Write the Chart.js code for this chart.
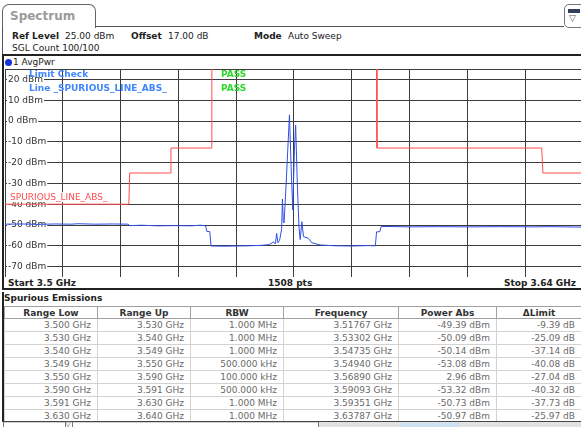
<!DOCTYPE html>
<html>
<head>
<meta charset="utf-8">
<script src="https://cdn.jsdelivr.net/npm/chart.js@4.4.1/dist/chart.umd.min.js"></script>
<style>
  html, body { margin: 0; padding: 0; background: #fff; }
  body { width: 581px; height: 427px; overflow: hidden; position: relative; font-family: "DejaVu Sans", sans-serif; font-size: 9px; color: #222; }
  .t { position: absolute; white-space: nowrap; line-height: 10px; }
  .b { font-weight: bold; }
  .ln { position: absolute; background: #222; }
  #tab { position: absolute; left: 2px; top: 4px; width: 92px; height: 23px; border: 1px solid #666; border-bottom: none; border-radius: 7px 7px 0 0; background: #fff; }
  #tab span { position: absolute; left: 7px; top: 4px; font-size: 12px; color: #9a9a9a; font-weight: bold; }
  #icon { position: absolute; left: 564px; top: 4px; width: 20px; height: 22px; border: 1px solid #777; border-radius: 5px; background: #fff; }
  #icon .bar { position: absolute; left: 3px; top: 4px; width: 12px; height: 4px; background: #33405a; }
  #icon .tri { position: absolute; left: 4px; top: 8px; font-size: 9px; color: #555; }
  #spectrum { position: absolute; left: 5px; top: 69px; }
  #spur { position: absolute; left: 4px; top: 306px; border-collapse: collapse; table-layout: fixed; width: 577px; font-family: "DejaVu Sans", sans-serif; font-size: 9px; }
  #spur th { font-weight: bold; color: #333; border: 1px solid #a0a0a0; padding: 0; text-align: center; line-height: 10px; }
  #spur td { color: #6a6a6a; border: 1px solid #d2d2d2; padding: 0 6px 0 0; text-align: right; line-height: 11px; }
  #spur tr.h { height: 12px; }
  #spur tr { height: 13px; }
</style>
</head>
<body>
<div id="tab"><span>Spectrum</span></div>
<div class="ln" style="left:95px;top:26px;width:469px;height:1px;background:#555"></div>
<div id="icon"><div class="bar"></div><div class="tri">▽</div></div>

<div class="t b" style="left:12px;top:31px">Ref Level</div>
<div class="t" style="left:65px;top:31px">25.00 dBm</div>
<div class="t b" style="left:131px;top:31px">Offset</div>
<div class="t" style="left:168px;top:31px">17.00 dB</div>
<div class="t b" style="left:254px;top:31px">Mode</div>
<div class="t" style="left:288px;top:31px">Auto Sweep</div>
<div class="t" style="left:12px;top:43px">SGL Count 100/100</div>

<div class="ln" style="left:2px;top:27px;width:1px;height:28px;background:#555"></div>
<div class="ln" style="left:2px;top:54px;width:579px;height:2px"></div>
<div class="ln" style="left:2px;top:54px;width:2px;height:236px"></div>
<div class="ln" style="left:2px;top:288px;width:579px;height:2px"></div>
<div style="position:absolute;left:5px;top:59px;width:7px;height:7px;border-radius:50%;background:#1530d8"></div>
<div class="t" style="left:13px;top:57px">1 AvgPwr</div>

<canvas id="spectrum" width="578" height="208"></canvas>

<div class="t b" style="left:8px;top:278px">Start 3.5 GHz</div>
<div class="t b" style="left:268px;top:278px">1508 pts</div>
<div class="t b" style="right:5px;top:278px">Stop 3.64 GHz</div>

<div class="t b" style="left:4px;top:293px">Spurious Emissions</div>
<div class="ln" style="left:2px;top:292px;width:2px;height:130px"></div>
<table id="spur">
  <colgroup><col style="width:93px"><col style="width:93px"><col style="width:93px"><col style="width:115px"><col style="width:98px"><col style="width:85px"></colgroup>
  <thead><tr class="h" id="head"></tr></thead>
  <tbody id="rows"></tbody>
</table>
<div class="ln" style="left:2px;top:421px;width:579px;height:1px;background:#444"></div>
<div style="position:absolute;left:3px;top:422px;width:61px;height:8px;border:1px solid #777;border-top:none;border-radius:0 0 4px 4px"></div>
<div class="t" style="left:65px;top:419px;font-size:8px;color:#666">▽</div>
<div style="position:absolute;left:72px;top:422px;width:245px;height:8px;border:1px solid #777;border-top:none;border-radius:0 0 4px 4px"></div>
<div style="position:absolute;left:319px;top:422px;width:262px;height:6px;background:#e2e2e2"></div>
<div style="position:absolute;left:400px;top:423px;width:60px;height:4px;background:#cfe0f2"></div>

<script>
// trace 1 (AvgPwr): frequency in GHz, level in dBm
const traceFreq = [
  3.5000, 3.5040, 3.5080, 3.5120, 3.5160, 3.5177, 3.5220, 3.5260, 3.5298,
  3.5302, 3.5330, 3.5370, 3.5410, 3.5450, 3.5473, 3.5486,
  3.5489, 3.5496,
  3.5499, 3.5530, 3.5560, 3.5590, 3.5620, 3.5640, 3.5650, 3.5655,
  3.5658, 3.5661, 3.5665, 3.5670, 3.5672, 3.5674, 3.5676, 3.5681,
  3.5689, 3.5693, 3.5697, 3.5701, 3.5704, 3.5708, 3.5712, 3.5715,
  3.5719, 3.5723, 3.5735, 3.5743, 3.5763, 3.5800, 3.5840, 3.5880, 3.5897,
  3.5900, 3.5908,
  3.5911, 3.5935, 3.5980, 3.6050, 3.6120, 3.6200, 3.6280, 3.6320, 3.6379, 3.6400
];
const traceLevel = [
  -49.6, -49.5, -49.7, -49.5, -49.6, -49.4, -49.6, -49.5, -49.6,
  -50.3, -50.1, -50.4, -50.3, -50.4, -50.1, -50.4,
  -53.1, -53.2,
  -60.1, -60.2, -60.1, -60.0, -59.8, -59.4, -58.2, -59.0,
  -54.0, -58.5, -57.5, -52.0, -37.5, -48.0, -49.0, -30.0,
  2.96, -22.0, -42.8, -14.0, -1.9, -30.0, -50.8, -57.0,
  -48.4, -55.6, -56.4, -58.5, -59.6, -60.0, -60.1, -59.9, -60.0,
  -53.3, -53.2,
  -50.7, -50.73, -50.9, -50.8, -50.9, -50.8, -50.9, -50.8, -50.97, -51.0
];

// limit line _SPURIOUS_LINE_ABS_
const limitFreq  = [3.5, 3.53, 3.5302, 3.54, 3.5402, 3.55, 3.5501, 3.59, 3.5901, 3.63, 3.6303, 3.64];
const limitLevel = [-40, -40, -25, -25, -13, -13, 30, 30, -13, -13, -25, -25];

// grid
const levelTicks = [20, 10, 0, -10, -20, -30, -40, -50, -60, -70];
const levelGrid = [25, 20, 10, 0, -10, -20, -30, -40, -50, -60, -70, -75];
const freqGrid = [3.5, 3.514, 3.528, 3.542, 3.556, 3.57, 3.584, 3.598, 3.612, 3.626, 3.64];

// spurious emissions table
const headers = ['Range Low', 'Range Up', 'RBW', 'Frequency', 'Power Abs', '\u0394Limit'];
const rangeLow = ['3.500 GHz', '3.530 GHz', '3.540 GHz', '3.549 GHz', '3.550 GHz', '3.590 GHz', '3.591 GHz', '3.630 GHz'];
const rangeUp  = ['3.530 GHz', '3.540 GHz', '3.549 GHz', '3.550 GHz', '3.590 GHz', '3.591 GHz', '3.630 GHz', '3.640 GHz'];
const rbw      = ['1.000 MHz', '1.000 MHz', '1.000 MHz', '500.000 kHz', '100.000 kHz', '500.000 kHz', '1.000 MHz', '1.000 MHz'];
const peakFreq = ['3.51767 GHz', '3.53302 GHz', '3.54735 GHz', '3.54940 GHz', '3.56890 GHz', '3.59093 GHz', '3.59351 GHz', '3.63787 GHz'];
const powerAbs = ['-49.39 dBm', '-50.09 dBm', '-50.14 dBm', '-53.08 dBm', '2.96 dBm', '-53.32 dBm', '-50.73 dBm', '-50.97 dBm'];
const deltaLimit = ['-9.39 dB', '-25.09 dB', '-37.14 dB', '-40.08 dB', '-27.04 dB', '-40.32 dB', '-37.73 dB', '-25.97 dB'];

// fill the table
document.getElementById('head').innerHTML = headers.map(h => '<th>' + h + '</th>').join('');
let body = '';
for (let i = 0; i < rangeLow.length; i++) {
  body += '<tr>' + [rangeLow[i], rangeUp[i], rbw[i], peakFreq[i], powerAbs[i], deltaLimit[i]]
    .map(c => '<td>' + c + '</td>').join('') + '</tr>';
}
document.getElementById('rows').innerHTML = body;

const FONT = '9px "DejaVu Sans"';
const BOLD = 'bold 9px "DejaVu Sans"';

// level labels sit inside the grid, limit texts on top
const overlay = {
  id: 'overlay',
  beforeDatasetsDraw(chart) {
    const { ctx, scales: { y } } = chart;
    ctx.save();
    ctx.font = FONT;
    ctx.textBaseline = 'middle';
    levelTicks.forEach(v => {
      const py = y.getPixelForValue(v);
      const txt = v + ' dBm';
      const w = ctx.measureText(txt).width;
      ctx.fillStyle = '#fff';
      ctx.fillRect(2, py - 5, w + 2, 10);
      ctx.fillStyle = '#333';
      ctx.fillText(txt, 3, py);
    });
    ctx.restore();
  },
  afterDatasetsDraw(chart) {
    const { ctx, scales: { y } } = chart;
    ctx.save();
    ctx.textBaseline = 'middle';
    // limit line name
    ctx.font = FONT;
    const name = 'SPURIOUS_LINE_ABS_';
    const ly = y.getPixelForValue(-40) - 7;
    ctx.fillStyle = '#fff';
    ctx.fillRect(3, ly - 5, ctx.measureText(name).width + 4, 10);
    ctx.fillStyle = '#ff4d4d';
    ctx.fillText(name, 5, ly);
    // limit check
    ctx.font = BOLD;
    ctx.fillStyle = '#3f86ff';
    ctx.fillText('Limit Check', 24, 6);
    ctx.fillText('Line _SPURIOUS_LINE_ABS_', 24, 20);
    ctx.fillStyle = '#2ed82e';
    ctx.fillText('PASS', 216, 6);
    ctx.fillText('PASS', 216, 20);
    ctx.restore();
  }
};

const ctx = document.getElementById('spectrum').getContext('2d');
const spectrumChart = new Chart(ctx, {
  type: 'line',
  data: {
    datasets: [
      {
        label: 'Limit',
        data: limitFreq.map((f, i) => ({ x: f, y: limitLevel[i] })),
        borderColor: '#ff4d4d',
        borderWidth: 1,
        pointRadius: 0,
        tension: 0
      },
      {
        label: '1 AvgPwr',
        data: traceFreq.map((f, i) => ({ x: f, y: traceLevel[i] })),
        borderColor: '#2f4fe6',
        borderWidth: 1,
        pointRadius: 0,
        tension: 0
      }
    ]
  },
  options: {
    responsive: false,
    maintainAspectRatio: false,
    animation: false,
    devicePixelRatio: 1,
    layout: { padding: 0 },
    plugins: { legend: { display: false }, tooltip: { enabled: false } },
    scales: {
      x: {
        type: 'linear',
        min: 3.5,
        max: 3.64,
        afterBuildTicks: s => { s.ticks = freqGrid.map(v => ({ value: v })); },
        ticks: { display: false },
        grid: { color: '#3c3c3c', lineWidth: 1, drawTicks: false },
        border: { display: false }
      },
      y: {
        min: -75,
        max: 25,
        afterBuildTicks: s => { s.ticks = levelGrid.map(v => ({ value: v })); },
        ticks: { display: false },
        grid: { color: '#3c3c3c', lineWidth: 1, drawTicks: false },
        border: { display: false }
      }
    }
  },
  plugins: [overlay]
});
</script>
</body>
</html>
